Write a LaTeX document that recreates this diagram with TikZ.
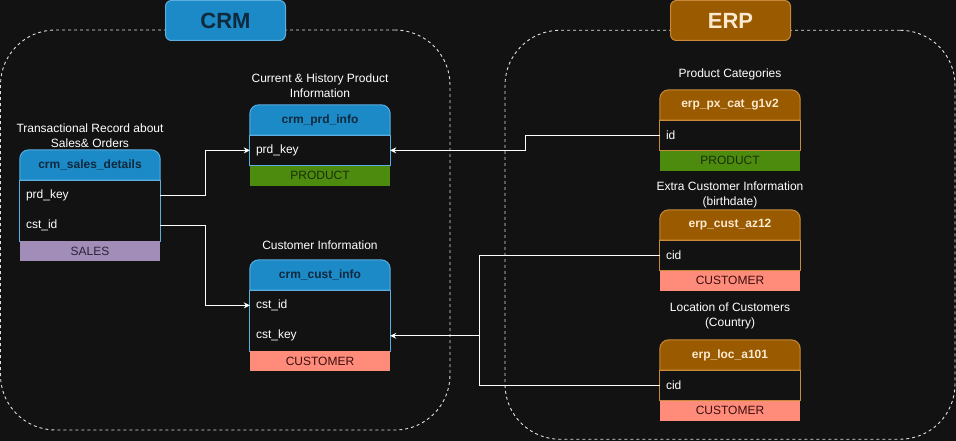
\documentclass[tikz,border=0pt]{standalone}
\usepackage{fontspec}
\setmainfont{Liberation Sans}
\usetikzlibrary{positioning,backgrounds,arrows.meta}
\pgfdeclarelayer{canvas}
\pgfsetlayers{canvas,background,main}
\definecolor{canvas}{HTML}{121212}
\definecolor{crmblue}{HTML}{1B8AC6}
\definecolor{crmline}{HTML}{5AAEE0}
\definecolor{crmtext}{HTML}{10293D}
\definecolor{erpbrown}{HTML}{995A00}
\definecolor{erpline}{HTML}{C88A3A}
\definecolor{erptext}{HTML}{FCE9CF}
\definecolor{prodgreen}{HTML}{4D8B0E}
\definecolor{prodtext}{HTML}{1A2E05}
\definecolor{salespurple}{HTML}{A28DB8}
\definecolor{salestext}{HTML}{2B2238}
\definecolor{custsalmon}{HTML}{FF8C7B}
\definecolor{custtext}{HTML}{3B0E0E}

\begin{document}
\begin{tikzpicture}[x=1pt,y=-1pt,
    every node/.style={font=\fontsize{12}{15}\selectfont,text=white,inner sep=0pt},
    group/.style={draw=white!88!black,line width=0.9pt,dash pattern=on 3pt off 3pt,rounded corners=55pt},
    badge/.style={rounded corners=6pt,minimum width=120,minimum height=40,line width=1pt,font=\fontsize{22}{26}\selectfont\bfseries},
    title/.style={align=center},
    head/.style={minimum width=140,minimum height=30,font=\fontsize{12}{15}\selectfont\bfseries},
    field/.style={text width=128pt,inner xsep=6pt,minimum height=30,align=left,below=0pt of #1},
    foot/.style={minimum width=140,minimum height=20,below=0pt of #1},
    link/.style={white,line width=1pt},
    arrow/.style={link,-{Stealth[length=6pt,width=6pt]}},
  ]
  \useasboundingbox (0,0) rectangle (956,441);
  \begin{pgfonlayer}{canvas}
    \fill[canvas] (0,0) rectangle (956,441);
  \end{pgfonlayer}

  % tables
  \path
  (90,165) node[head,text=crmtext](saleshead) {crm\_sales\_details}
  (320,120) node[head,text=crmtext](prdhead) {crm\_prd\_info}
  (320,275) node[head,text=crmtext](custhead) {crm\_cust\_info}
  (730,105) node[head,text=erptext](pxhead) {erp\_px\_cat\_g1v2}
  (730,225) node[head,text=erptext](azhead) {erp\_cust\_az12}
  (730,355) node[head,text=erptext](lochead) {erp\_loc\_a101}
  ;
  \node[field=saleshead] (salesprd) {prd\_key};
  \node[field=salesprd] (salescst) {cst\_id};
  \node[foot=salescst,fill=salespurple,text=salestext] (salesfoot) {SALES};

  \node[field=prdhead] (prdkey) {prd\_key};
  \node[foot=prdkey,fill=prodgreen,text=prodtext] (prdfoot) {PRODUCT};

  \node[field=custhead] (custid) {cst\_id};
  \node[field=custid] (custkey) {cst\_key};
  \node[foot=custkey,fill=custsalmon,text=custtext] (custfoot) {CUSTOMER};

  \node[field=pxhead] (pxid) {id};
  \node[foot=pxid,fill=prodgreen,text=prodtext] (pxfoot) {PRODUCT};

  \node[field=azhead] (azcid) {cid};
  \node[foot=azcid,fill=custsalmon,text=custtext] (azfoot) {CUSTOMER};

  \node[field=lochead] (loccid) {cid};
  \node[foot=loccid,fill=custsalmon,text=custtext] (locfoot) {CUSTOMER};

  % titles
  \node[title,above=2pt of saleshead] (salestitle) {Transactional Record about\\Sales\& Orders};
  \node[title,above=7pt of prdhead] (prdtitle) {Current \& History Product\\Information};
  \node[title,above=9.5pt of custhead] (custtitle) {Customer Information};
  \node[title,above=9.5pt of pxhead] (pxtitle) {Product Categories};
  \node[title,above=2pt of azhead] (aztitle) {Extra Customer Information\\(birthdate)};
  \node[title,above=11pt of lochead] (loctitle) {Location of Customers\\(Country)};

  \begin{scope}[on background layer]
    \node[group,minimum width=449.5,minimum height=400] (crmgroup) at (225.25,230) {};
    \node[group,minimum width=450,minimum height=409] (erpgroup) at (730,234.75) {};
    \foreach \h/\a/\b/\c/\l in {saleshead/salesprd/salescst/crmblue/crmline,
        prdhead/prdkey/prdkey/crmblue/crmline, custhead/custid/custkey/crmblue/crmline,
        pxhead/pxid/pxid/erpbrown/erpline, azhead/azcid/azcid/erpbrown/erpline,
        lochead/loccid/loccid/erpbrown/erpline}{
      \draw[fill=\c,draw=\l,line width=1pt] (\h.south west) [rounded corners=9pt] -- (\h.north west) -- (\h.north east) [sharp corners] -- (\h.south east) -- cycle;
      \draw[\l,line width=1pt] (\a.north west) rectangle (\b.south east);
    }
  \end{scope}

  % badges
  \node[badge,fill=crmblue,draw=crmline,text=crmtext] (crm) at (225.5,20.5) {CRM};
  \node[badge,fill=erpbrown,draw=erpline,text=erptext] (erp) at (730.5,20.5) {ERP};

  % links
  \draw[arrow] (salesprd.east) -- ++(45,0) |- (prdkey.west);
  \draw[arrow] (salescst.east) -- ++(45,0) |- (custid.west);
  \draw[arrow] (pxid.west) -- ++(-134.5,0) |- (prdkey.east);
  \draw[link] (azcid.west) -- ++(-180,0) coordinate (azbend) |- (loccid.west);
  \draw[arrow] (azbend |- custkey.east) -- (custkey.east);
\end{tikzpicture}
\end{document}
